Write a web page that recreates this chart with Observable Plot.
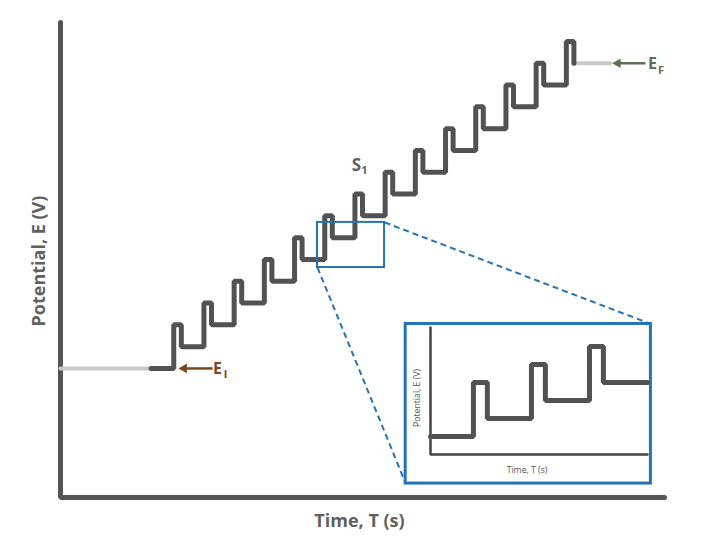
<!DOCTYPE html>
<html>
<head>
<meta charset="utf-8">
<script src="https://cdn.jsdelivr.net/npm/d3@7"></script>
<script src="https://cdn.jsdelivr.net/npm/@observablehq/plot@0.6"></script>
<style>
  html, body { margin: 0; padding: 0; background: #fff; }
  #wrap { position: relative; width: 705px; height: 537px; }
  #wrap svg { display: block; }
  #inset { position: absolute; left: 405px; top: 323px; }
</style>
</head>
<body>
<div id="wrap"><div id="main"></div><div id="inset"></div></div>
<script>
// ---- Main waveform (time in step periods, potential in step units) ----
const pulseTimes = [3.75, 4.75, 5.75, 6.75, 7.75, 8.75, 9.75, 10.75, 11.75, 12.75, 13.75, 14.75, 15.75, 16.75];
const baseLevels = [0, 1, 2, 3, 4, 5, 6, 7, 8, 9, 10, 11, 12, 13, 14];
const pulseTops  = [2, 3, 4, 5, 6, 7, 8, 9, 10, 11, 12, 13, 14, 15];
const pulseWidth = 0.25;
const startTime = 3.0;      // where the staircase begins
const initialEnd = 3.0;     // light-grey E_I segment 0 -> 3
const finalEnd = 18.2;      // light-grey E_F segment 17 -> 18.2
const timeDomain = [0, 20];
const potentialDomain = [-5.92, 15.87];

// zoom window and inset placement (data units)
const zoomT = [8.51, 10.73];
const zoomE = [4.63, 6.70];
const insetT = [11.43, 19.55];
const insetE = [-5.28, 2.04];

// labels
const labelS = {t: 9.8, E: 9.3};
const labelEI = {t: 5.2, E: 0, arrowFrom: 4.87, arrowTo: 3.92};
const labelEF = {t: 19.6, E: 14, arrowFrom: 19.2, arrowTo: 18.28};

// ---- Inset waveform ----
const insetPulseTimes = [0.74, 1.74, 2.74];
const insetBase = [0, 1, 2, 3];
const insetTops = [3, 4, 5];
const insetPulseWidth = 0.24;
const insetTimeDomain = [0, 3.74];
const insetPotentialDomain = [-1, 6.06];

const dark = "#525252", axisCol = "#555555", light = "#c9c9c9", blue = "#2474b5";
const brown = "#7a4820", green = "#5d6f58", textCol = "#616161";

function staircase(start, times, bases, tops, w) {
  const pts = [{t: start, E: bases[0]}];
  times.forEach((t, k) => {
    pts.push({t, E: bases[k]}, {t, E: tops[k]}, {t: t + w, E: tops[k]}, {t: t + w, E: bases[k + 1]});
  });
  return pts;
}

const wave = staircase(startTime, pulseTimes, baseLevels, pulseTops, pulseWidth);
const lastT = pulseTimes[pulseTimes.length - 1] + pulseWidth;
const lastE = baseLevels[baseLevels.length - 1];

function arrowMarks(lbl, color) {
  return [
    Plot.link([lbl], {x1: "arrowFrom", x2: "arrowTo", y1: "E", y2: "E", dx: 5, stroke: color, strokeWidth: 2.5}),
    Plot.dot([lbl], {x: "arrowTo", y: "E", dx: 5.2, symbol: "triangle", rotate: -90, r: 3.6, fill: color, stroke: "none"})
  ];
}

const main = Plot.plot({
  width: 705, height: 537,
  marginLeft: 60, marginRight: 41, marginTop: 22, marginBottom: 40,
  x: {domain: timeDomain, axis: null},
  y: {domain: potentialDomain, axis: null},
  style: {fontFamily: "'Open Sans', sans-serif", background: "white"},
  marks: [
    // axes
    Plot.line([{t: timeDomain[0], E: potentialDomain[1]}, {t: timeDomain[0], E: potentialDomain[0]}, {t: timeDomain[1], E: potentialDomain[0]}],
      {x: "t", y: "E", stroke: axisCol, strokeWidth: 5, strokeLinejoin: "miter"}),
    // light grey initial / final
    Plot.line([{t: timeDomain[0], E: baseLevels[0]}, {t: initialEnd, E: baseLevels[0]}], {x: "t", y: "E", stroke: light, strokeWidth: 4}),
    Plot.line([{t: lastT, E: lastE}, {t: finalEnd, E: lastE}], {x: "t", y: "E", stroke: light, strokeWidth: 4}),
    // staircase
    Plot.line(wave, {x: "t", y: "E", stroke: dark, strokeWidth: 5, strokeLinejoin: "miter"}),
    // dashed connectors
    Plot.link([
      {x1: zoomT[1], y1: zoomE[1], x2: insetT[1], y2: insetE[1]},
      {x1: zoomT[0], y1: zoomE[0], x2: insetT[0], y2: insetE[0]}
    ], {x1: "x1", y1: "y1", x2: "x2", y2: "y2", stroke: blue, strokeWidth: 2, strokeDasharray: "6,4"}),
    // zoom box
    Plot.rect([{}], {x1: zoomT[0], x2: zoomT[1], y1: zoomE[0], y2: zoomE[1], fill: "none", stroke: blue, strokeWidth: 2}),
    // inset frame
    Plot.rect([{}], {x1: insetT[0], x2: insetT[1], y1: insetE[0], y2: insetE[1], fill: "white", stroke: blue, strokeWidth: 3}),
    // axis labels
    Plot.text(["Time, T (s)"], {frameAnchor: "bottom", textAnchor: "middle", lineAnchor: "middle", dx: -3, dy: 24, fontSize: 18, fontWeight: "bold", fill: textCol}),
    Plot.text(["Potential, E (V)"], {frameAnchor: "left", textAnchor: "middle", lineAnchor: "middle", rotate: -90, dx: -21, dy: 1, fontSize: 18, fontWeight: "bold", fill: textCol}),
    // S1
    Plot.text([labelS], {x: "t", y: "E", text: () => "S", fontSize: 17, fontWeight: "bold", fill: textCol}),
    Plot.text([labelS], {x: "t", y: "E", text: () => "1", dx: 8, dy: 5, fontSize: 11, fontWeight: "bold", fill: textCol}),
    // E_I
    ...arrowMarks(labelEI, brown),
    Plot.text([labelEI], {x: "t", y: "E", text: () => "E", fontSize: 16, fontWeight: "bold", fill: brown}),
    Plot.text([labelEI], {x: "t", y: "E", text: () => "I", dx: 8, dy: 6, fontSize: 11, fontWeight: "bold", fill: brown}),
    // E_F
    ...arrowMarks(labelEF, green),
    Plot.text([labelEF], {x: "t", y: "E", text: () => "E", dy: 1, fontSize: 16, fontWeight: "bold", fill: green}),
    Plot.text([labelEF], {x: "t", y: "E", text: () => "F", dx: 8.5, dy: 7, fontSize: 11, fontWeight: "bold", fill: green})
  ]
});
document.getElementById("main").appendChild(main);

const insetWave = staircase(insetTimeDomain[0], insetPulseTimes, insetBase, insetTops, insetPulseWidth);
insetWave.push({t: insetTimeDomain[1], E: insetBase[insetBase.length - 1]});

const inset = Plot.plot({
  width: 245, height: 160,
  marginLeft: 25, marginRight: 3, marginTop: 4, marginBottom: 29,
  x: {domain: insetTimeDomain, axis: null},
  y: {domain: insetPotentialDomain, axis: null},
  style: {fontFamily: "'Open Sans', sans-serif", background: "transparent"},
  marks: [
    Plot.line([{t: 0, E: insetPotentialDomain[1]}, {t: 0, E: insetPotentialDomain[0]}, {t: insetTimeDomain[1], E: insetPotentialDomain[0]}],
      {x: "t", y: "E", stroke: "#444", strokeWidth: 2.5, strokeLinejoin: "miter"}),
    Plot.line(insetWave, {x: "t", y: "E", stroke: dark, strokeWidth: 5, strokeLinejoin: "miter"}),
    Plot.text(["Time, T (s)"], {frameAnchor: "bottom", textAnchor: "middle", lineAnchor: "middle", dx: -12, dy: 16, fontSize: 8.7, fill: "#555"}),
    Plot.text(["Potential, E (V)"], {frameAnchor: "left", textAnchor: "middle", lineAnchor: "middle", rotate: -90, dx: -13, dy: 7, fontSize: 8.7, fill: "#555"})
  ]
});
document.getElementById("inset").appendChild(inset);
</script>
</body>
</html>
